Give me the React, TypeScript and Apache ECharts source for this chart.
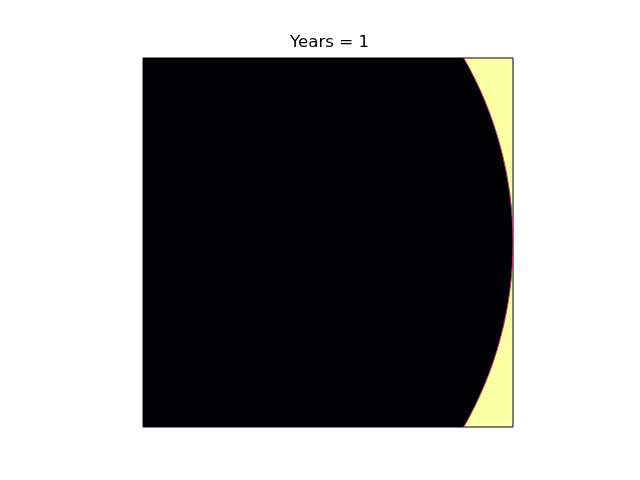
import React, { useEffect, useRef } from "react";
import * as echarts from "echarts";

const titleText = "Years = 1";
const xRange = [0, 1];
const yRange = [0, 1];
const circleCenterX = [0];
const circleCenterY = [0.5];
const circleRadius = [1];

export default function App() {
  const ref = useRef<HTMLDivElement>(null);
  useEffect(() => {
    if (!ref.current) return;
    const chart = echarts.init(ref.current, null, { renderer: "svg" });
    const data = circleCenterX.map((x, i) => [x, circleCenterY[i], circleRadius[i]]);
    chart.setOption({
      animation: false,
      title: {
        text: titleText,
        left: 290,
        top: 32,
        padding: 0,
        textStyle: {
          fontFamily: "DejaVu Sans",
          fontSize: 16.7,
          fontWeight: "normal",
          color: "#000",
        },
      },
      grid: {
        left: 143,
        top: 58,
        width: 370,
        height: 369,
        show: true,
        backgroundColor: "#fcffa4",
        borderColor: "#000",
        borderWidth: 1,
        z: 0,
      },
      xAxis: {
        type: "value",
        min: xRange[0],
        max: xRange[1],
        show: false,
      },
      yAxis: {
        type: "value",
        min: yRange[0],
        max: yRange[1],
        show: false,
      },
      series: [
        {
          type: "custom",
          clip: true,
          data,
          renderItem: (params: any, api: any) => {
            const c = api.coord([api.value(0), api.value(1)]);
            const r = api.size([api.value(2), 0])[0];
            return {
              type: "circle",
              shape: { cx: c[0], cy: c[1], r },
              style: { fill: "#000004", stroke: "#b5367a", lineWidth: 1 },
            };
          },
        },
      ],
    });
    return () => chart.dispose();
  }, []);
  return (
    <div
      ref={ref}
      style={{ position: "fixed", left: 0, top: 0, width: 640, height: 480 }}
    />
  );
}
